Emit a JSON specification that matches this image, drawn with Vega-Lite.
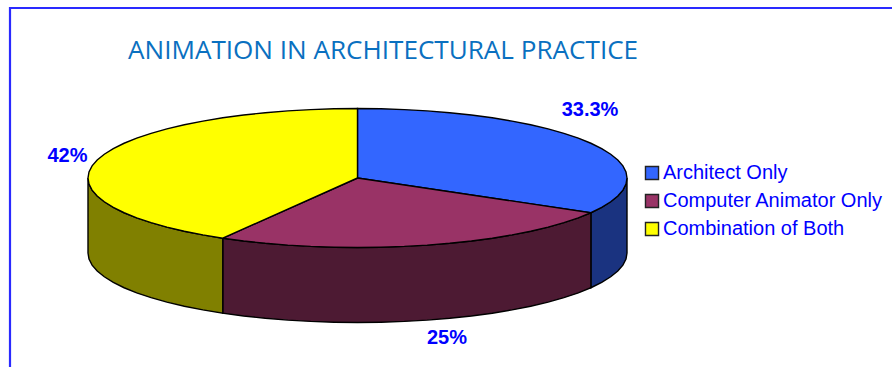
{
  "$schema": "https://vega.github.io/schema/vega-lite/v6.json",
  "width": 892,
  "height": 367,
  "padding": 0,
  "autosize": {"type": "fit", "contains": "padding"},
  "background": "white",
  "config": {"view": {"stroke": null}},
  "datasets": {
    "walls": [
      {"slice":"Architect Only","x":627,"y":178,"y2":253},{"slice":"Architect Only","x":626,"y":184.1,"y2":259.1},{"slice":"Architect Only","x":622.9,"y":190.1,"y2":265.1},{"slice":"Architect Only","x":617.8,"y":196,"y2":271},{"slice":"Architect Only","x":610.7,"y":201.8,"y2":276.8},{"slice":"Architect Only","x":601.7,"y":207.4,"y2":282.4},{"slice":"Architect Only","x":590.9,"y":212.75,"y2":287.75},
      {"slice":"Computer Animator Only","x":590.9,"y":212.75,"y2":287.75},{"slice":"Computer Animator Only","x":578.3,"y":217.9,"y2":292.9},{"slice":"Computer Animator Only","x":563.9,"y":222.7,"y2":297.7},{"slice":"Computer Animator Only","x":548.1,"y":227.1,"y2":302.1},{"slice":"Computer Animator Only","x":530.7,"y":231.2,"y2":306.2},{"slice":"Computer Animator Only","x":512.1,"y":234.9,"y2":309.9},{"slice":"Computer Animator Only","x":492.3,"y":238.2,"y2":313.2},{"slice":"Computer Animator Only","x":471.4,"y":241,"y2":316},{"slice":"Computer Animator Only","x":449.7,"y":243.3,"y2":318.3},{"slice":"Computer Animator Only","x":427.2,"y":245.1,"y2":320.1},{"slice":"Computer Animator Only","x":404.3,"y":246.4,"y2":321.4},{"slice":"Computer Animator Only","x":381,"y":247.2,"y2":322.2},{"slice":"Computer Animator Only","x":357.5,"y":247.5,"y2":322.5},{"slice":"Computer Animator Only","x":334,"y":247.2,"y2":322.2},{"slice":"Computer Animator Only","x":310.7,"y":246.4,"y2":321.4},{"slice":"Computer Animator Only","x":287.8,"y":245.1,"y2":320.1},{"slice":"Computer Animator Only","x":265.3,"y":243.3,"y2":318.3},{"slice":"Computer Animator Only","x":243.6,"y":241,"y2":316},{"slice":"Computer Animator Only","x":222.75,"y":238.2,"y2":313.2},
      {"slice":"Combination of Both","x":222.75,"y":238.2,"y2":313.2},{"slice":"Combination of Both","x":202.9,"y":234.9,"y2":309.9},{"slice":"Combination of Both","x":184.3,"y":231.2,"y2":306.2},{"slice":"Combination of Both","x":166.9,"y":227.1,"y2":302.1},{"slice":"Combination of Both","x":151.1,"y":222.7,"y2":297.7},{"slice":"Combination of Both","x":136.7,"y":217.9,"y2":292.9},{"slice":"Combination of Both","x":124.1,"y":212.75,"y2":287.75},{"slice":"Combination of Both","x":113.3,"y":207.4,"y2":282.4},{"slice":"Combination of Both","x":104.3,"y":201.8,"y2":276.8},{"slice":"Combination of Both","x":97.2,"y":196,"y2":271},{"slice":"Combination of Both","x":92.1,"y":190.1,"y2":265.1},{"slice":"Combination of Both","x":89,"y":184.1,"y2":259.1},{"slice":"Combination of Both","x":88,"y":178,"y2":253}
    ],
    "faces": [
      {"slice":"Architect Only","step":0,"x":357.5,"y":178},{"slice":"Architect Only","step":1,"x":357.5,"y":108.5},{"slice":"Architect Only","step":2,"x":381,"y":108.8},{"slice":"Architect Only","step":3,"x":404.3,"y":109.6},{"slice":"Architect Only","step":4,"x":427.2,"y":110.9},{"slice":"Architect Only","step":5,"x":449.7,"y":112.7},{"slice":"Architect Only","step":6,"x":471.4,"y":115},{"slice":"Architect Only","step":7,"x":492.3,"y":117.8},{"slice":"Architect Only","step":8,"x":512.1,"y":121.1},{"slice":"Architect Only","step":9,"x":530.7,"y":124.8},{"slice":"Architect Only","step":10,"x":548.1,"y":128.9},{"slice":"Architect Only","step":11,"x":563.9,"y":133.3},{"slice":"Architect Only","step":12,"x":578.3,"y":138.1},{"slice":"Architect Only","step":13,"x":590.9,"y":143.25},{"slice":"Architect Only","step":14,"x":601.7,"y":148.6},{"slice":"Architect Only","step":15,"x":610.7,"y":154.2},{"slice":"Architect Only","step":16,"x":617.8,"y":160},{"slice":"Architect Only","step":17,"x":622.9,"y":165.9},{"slice":"Architect Only","step":18,"x":626,"y":171.9},{"slice":"Architect Only","step":19,"x":627,"y":178},{"slice":"Architect Only","step":20,"x":626,"y":184.1},{"slice":"Architect Only","step":21,"x":622.9,"y":190.1},{"slice":"Architect Only","step":22,"x":617.8,"y":196},{"slice":"Architect Only","step":23,"x":610.7,"y":201.8},{"slice":"Architect Only","step":24,"x":601.7,"y":207.4},{"slice":"Architect Only","step":25,"x":590.9,"y":212.75},
      {"slice":"Computer Animator Only","step":0,"x":357.5,"y":178},{"slice":"Computer Animator Only","step":1,"x":590.9,"y":212.75},{"slice":"Computer Animator Only","step":2,"x":578.3,"y":217.9},{"slice":"Computer Animator Only","step":3,"x":563.9,"y":222.7},{"slice":"Computer Animator Only","step":4,"x":548.1,"y":227.1},{"slice":"Computer Animator Only","step":5,"x":530.7,"y":231.2},{"slice":"Computer Animator Only","step":6,"x":512.1,"y":234.9},{"slice":"Computer Animator Only","step":7,"x":492.3,"y":238.2},{"slice":"Computer Animator Only","step":8,"x":471.4,"y":241},{"slice":"Computer Animator Only","step":9,"x":449.7,"y":243.3},{"slice":"Computer Animator Only","step":10,"x":427.2,"y":245.1},{"slice":"Computer Animator Only","step":11,"x":404.3,"y":246.4},{"slice":"Computer Animator Only","step":12,"x":381,"y":247.2},{"slice":"Computer Animator Only","step":13,"x":357.5,"y":247.5},{"slice":"Computer Animator Only","step":14,"x":334,"y":247.2},{"slice":"Computer Animator Only","step":15,"x":310.7,"y":246.4},{"slice":"Computer Animator Only","step":16,"x":287.8,"y":245.1},{"slice":"Computer Animator Only","step":17,"x":265.3,"y":243.3},{"slice":"Computer Animator Only","step":18,"x":243.6,"y":241},{"slice":"Computer Animator Only","step":19,"x":222.75,"y":238.2},
      {"slice":"Combination of Both","step":0,"x":357.5,"y":178},{"slice":"Combination of Both","step":1,"x":222.75,"y":238.2},{"slice":"Combination of Both","step":2,"x":202.9,"y":234.9},{"slice":"Combination of Both","step":3,"x":184.3,"y":231.2},{"slice":"Combination of Both","step":4,"x":166.9,"y":227.1},{"slice":"Combination of Both","step":5,"x":151.1,"y":222.7},{"slice":"Combination of Both","step":6,"x":136.7,"y":217.9},{"slice":"Combination of Both","step":7,"x":124.1,"y":212.75},{"slice":"Combination of Both","step":8,"x":113.3,"y":207.4},{"slice":"Combination of Both","step":9,"x":104.3,"y":201.8},{"slice":"Combination of Both","step":10,"x":97.2,"y":196},{"slice":"Combination of Both","step":11,"x":92.1,"y":190.1},{"slice":"Combination of Both","step":12,"x":89,"y":184.1},{"slice":"Combination of Both","step":13,"x":88,"y":178},{"slice":"Combination of Both","step":14,"x":89,"y":171.9},{"slice":"Combination of Both","step":15,"x":92.1,"y":165.9},{"slice":"Combination of Both","step":16,"x":97.2,"y":160},{"slice":"Combination of Both","step":17,"x":104.3,"y":154.2},{"slice":"Combination of Both","step":18,"x":113.3,"y":148.6},{"slice":"Combination of Both","step":19,"x":124.1,"y":143.25},{"slice":"Combination of Both","step":20,"x":136.7,"y":138.1},{"slice":"Combination of Both","step":21,"x":151.1,"y":133.3},{"slice":"Combination of Both","step":22,"x":166.9,"y":128.9},{"slice":"Combination of Both","step":23,"x":184.3,"y":124.8},{"slice":"Combination of Both","step":24,"x":202.9,"y":121.1},{"slice":"Combination of Both","step":25,"x":222.75,"y":117.8},{"slice":"Combination of Both","step":26,"x":243.6,"y":115},{"slice":"Combination of Both","step":27,"x":265.3,"y":112.7},{"slice":"Combination of Both","step":28,"x":287.8,"y":110.9},{"slice":"Combination of Both","step":29,"x":310.7,"y":109.6},{"slice":"Combination of Both","step":30,"x":334,"y":108.8},{"slice":"Combination of Both","step":31,"x":357.5,"y":108.5}
    ],
    "shares": [
      {"label":"33.3%","x":590,"y":110},
      {"label":"25%","x":447,"y":338},
      {"label":"42%","x":67.5,"y":156}
    ]
  },
  "layer": [
    {
      "description": "Blue frame along the top and left of the slide panel",
      "data": {"values": [{"x":10,"x2":10,"y":7,"y2":367},{"x":9,"x2":892,"y":8,"y2":8}]},
      "mark": {"type": "rule", "stroke": "#2a2aff", "strokeWidth": 2.2, "clip": true},
      "encoding": {
        "x": {"field": "x", "type": "quantitative", "scale": {"domain": [0, 892]}, "axis": null},
        "x2": {"field": "x2"},
        "y": {"field": "y", "type": "quantitative", "scale": {"domain": [367, 0]}, "axis": null},
        "y2": {"field": "y2"}
      }
    },
    {
      "description": "Outer walls of the pie, in darker shades",
      "data": {"name": "walls"},
      "mark": {"type": "area", "stroke": "black", "strokeWidth": 1.4, "interpolate": "linear"},
      "encoding": {
        "x": {"field": "x", "type": "quantitative", "scale": {"domain": [0, 892]}, "axis": null},
        "y": {"field": "y", "type": "quantitative", "scale": {"domain": [367, 0]}, "axis": null},
        "y2": {"field": "y2"},
        "detail": {"field": "slice"},
        "fill": {
          "field": "slice", "type": "nominal", "legend": null,
          "scale": {
            "domain": ["Architect Only", "Computer Animator Only", "Combination of Both"],
            "range": ["#1a3380", "#4d1a33", "#808000"]
          }
        }
      }
    },
    {
      "description": "Top faces of the three slices",
      "data": {"name": "faces"},
      "mark": {"type": "line", "interpolate": "linear-closed", "stroke": "black", "strokeWidth": 1.4, "point": false},
      "encoding": {
        "x": {"field": "x", "type": "quantitative", "scale": {"domain": [0, 892]}, "axis": null},
        "y": {"field": "y", "type": "quantitative", "scale": {"domain": [367, 0]}, "axis": null},
        "order": {"field": "step", "type": "quantitative"},
        "detail": {"field": "slice"},
        "fill": {
          "field": "slice", "type": "nominal",
          "scale": {
            "domain": ["Architect Only", "Computer Animator Only", "Combination of Both"],
            "range": ["#3366ff", "#993366", "#ffff00"]
          },
          "legend": {
            "title": null, "orient": "none", "legendX": 642, "legendY": 163,
            "symbolType": "square", "symbolSize": 170, "symbolStrokeColor": "#222222", "symbolStrokeWidth": 1.4,
            "labelFont": "Liberation Sans", "labelFontSize": 20, "labelColor": "#0000ff",
            "labelOffset": 1, "rowPadding": 8, "labelLimit": 300
          }
        }
      }
    },
    {
      "description": "Share of each slice",
      "data": {"name": "shares"},
      "mark": {"type": "text", "font": "Liberation Sans", "fontWeight": "bold", "fontSize": 20, "fill": "#0000ff", "align": "center", "baseline": "middle"},
      "encoding": {
        "x": {"field": "x", "type": "quantitative", "scale": {"domain": [0, 892]}, "axis": null},
        "y": {"field": "y", "type": "quantitative", "scale": {"domain": [367, 0]}, "axis": null},
        "text": {"field": "label"}
      }
    },
    {
      "description": "Chart heading",
      "data": {"values": [{"label":"ANIMATION IN ARCHITECTURAL PRACTICE","x":128,"y":59}]},
      "mark": {"type": "text", "font": "Open Sans", "fontSize": 26.1, "fill": "#0a70c0", "align": "left", "baseline": "alphabetic"},
      "encoding": {
        "x": {"field": "x", "type": "quantitative", "scale": {"domain": [0, 892]}, "axis": null},
        "y": {"field": "y", "type": "quantitative", "scale": {"domain": [367, 0]}, "axis": null},
        "text": {"field": "label"}
      }
    }
  ],
  "resolve": {"scale": {"fill": "independent"}}
}
